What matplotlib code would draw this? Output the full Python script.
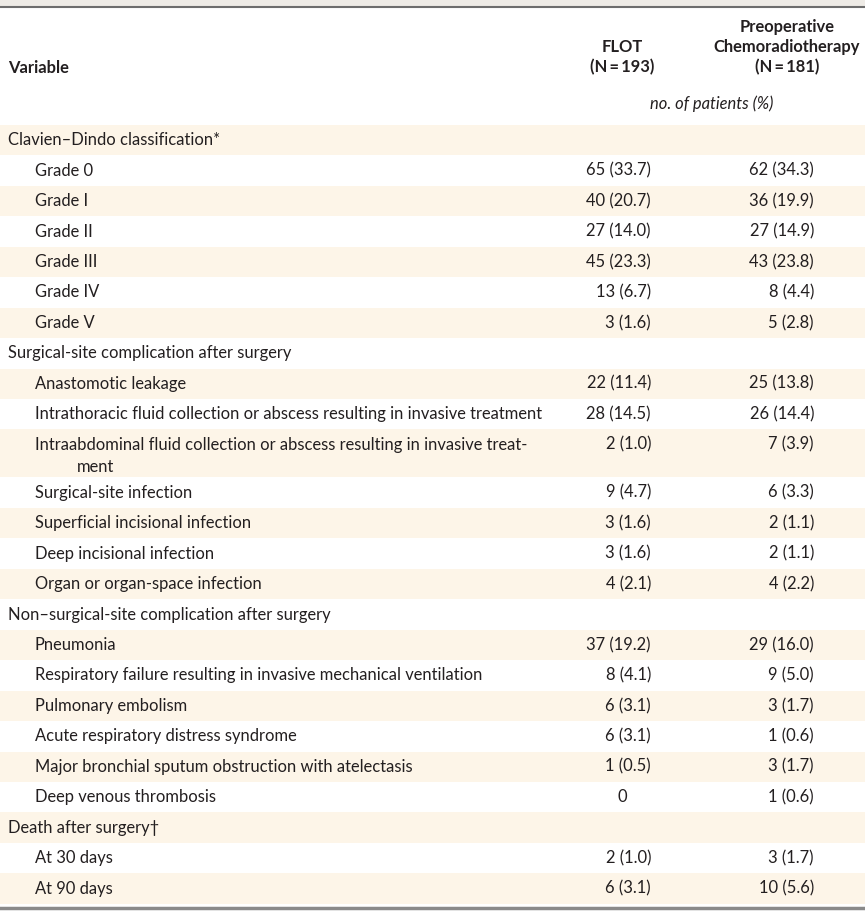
import matplotlib
matplotlib.use("Agg")
import matplotlib.pyplot as plt

labels = ["Clavien–Dindo classification*", "Grade 0", "Grade I", "Grade II", "Grade III", "Grade IV", "Grade V",
          "Surgical-site complication after surgery", "Anastomotic leakage",
          "Intrathoracic fluid collection or abscess resulting in invasive treatment",
          "Intraabdominal fluid collection or abscess resulting in invasive treat-\nment",
          "Surgical-site infection", "Superficial incisional infection", "Deep incisional infection",
          "Organ or organ-space infection", "Non–surgical-site complication after surgery", "Pneumonia",
          "Respiratory failure resulting in invasive mechanical ventilation", "Pulmonary embolism",
          "Acute respiratory distress syndrome", "Major bronchial sputum obstruction with atelectasis",
          "Deep venous thrombosis", "Death after surgery†", "At 30 days", "At 90 days"]
is_header = [1,0,0,0,0,0,0,1,0,0,0,0,0,0,0,1,0,0,0,0,0,0,1,0,0]
flot = ["", "65 (33.7)", "40 (20.7)", "27 (14.0)", "45 (23.3)", "13 (6.7)", "3 (1.6)", "", "22 (11.4)",
        "28 (14.5)", "2 (1.0)", "9 (4.7)", "3 (1.6)", "3 (1.6)", "4 (2.1)", "", "37 (19.2)", "8 (4.1)",
        "6 (3.1)", "6 (3.1)", "1 (0.5)", "0", "", "2 (1.0)", "6 (3.1)"]
crt = ["", "62 (34.3)", "36 (19.9)", "27 (14.9)", "43 (23.8)", "8 (4.4)", "5 (2.8)", "", "25 (13.8)",
       "26 (14.4)", "7 (3.9)", "6 (3.3)", "2 (1.1)", "2 (1.1)", "4 (2.2)", "", "29 (16.0)", "9 (5.0)",
       "3 (1.7)", "1 (0.6)", "3 (1.7)", "1 (0.6)", "", "3 (1.7)", "10 (5.6)"]
col_heads = ["FLOT\n(N\u2009=\u2009193)", "Preoperative\nChemoradiotherapy\n(N\u2009=\u2009181)"]

W, H = 865, 919
fig = plt.figure(figsize=(W/100, H/100), dpi=100)
ax = fig.add_axes([0, 0, 1, 1])
ax.set_xlim(0, W); ax.set_ylim(H, 0); ax.axis("off")
plt.rcParams['font.family'] = ['Lato', 'DejaVu Sans']
fs = 11.9
tc = "#231f20"

ax.add_patch(plt.Rectangle((0, 0), W, 6, color="#eeebe6", lw=0))
ax.plot([0, W], [7, 7], color="#6d6d6d", lw=1.5)
ax.text(8, 68, "Variable", fontsize=fs, weight="bold", va="center", color=tc)
ax.text(622, 57, col_heads[0], fontsize=fs, weight="bold", va="center", ha="center", color=tc, linespacing=1.3)
ax.text(787, 47, col_heads[1], fontsize=fs, weight="bold", va="center", ha="center", color=tc, linespacing=1.3)
ax.text(712, 104, "no. of patients (%)", fontsize=fs, style="italic", va="center", ha="center", color=tc)

h = 30.45
top = 125
for i, lab in enumerate(labels):
    rh = 48.0 if "\n" in lab else h
    if i % 2 == 0:
        ax.add_patch(plt.Rectangle((0, top), W, rh, color="#fdf5e8", lw=0))
    yc = top + h / 2
    x = 8 if is_header[i] else 35
    if "\n" in lab:
        first, second = lab.split("\n")
        ax.text(x, yc, first, fontsize=fs, va="center", color=tc)
        ax.text(x + 42, yc + 22, second, fontsize=fs, va="center", color=tc)
    else:
        ax.text(x, yc, lab, fontsize=fs, va="center", color=tc)
    for val, xr in ((flot[i], 651), (crt[i], 814)):
        if val:
            if "(" in val:
                ax.text(xr, yc, val, fontsize=fs, va="center", ha="right", color=tc)
            else:
                ax.text(xr - 29, yc, val, fontsize=fs, va="center", ha="center", color=tc)
    top += rh

ax.plot([0, W], [top + 4, top + 4], color="#8a8a8a", lw=2.5)
fig.savefig("out.png", dpi=100)
